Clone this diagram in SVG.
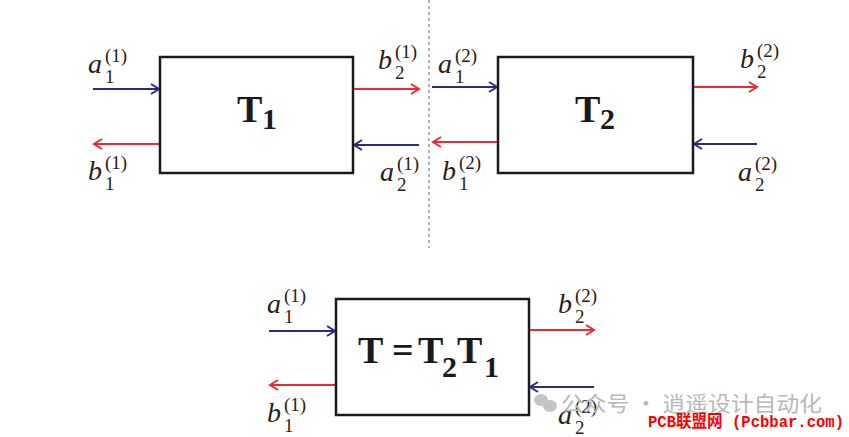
<svg xmlns="http://www.w3.org/2000/svg" width="849" height="437" viewBox="0 0 849 437">
<defs>
<style>
.box{fill:#fff;stroke:#1a1a1a;stroke-width:2.5}
.blue{stroke:#2b2b80;stroke-width:2;fill:none}
.red{stroke:#ee2a30;stroke-width:2;fill:none}
.v{font-family:"Liberation Serif",serif;font-style:italic;font-size:28px;fill:#2a2118}
.s{font-family:"Liberation Serif",serif;font-size:19px;fill:#2a2118}
.t{font-family:"Liberation Serif",serif;font-weight:bold;font-size:38px;fill:#1a1a1a}
.ts{font-family:"Liberation Serif",serif;font-weight:bold;font-size:30px;fill:#1a1a1a}
.wm{font-family:"Noto Sans CJK SC","Noto Sans",sans-serif;font-size:21px;fill:#b8b8b8}
.wr{font-family:"Liberation Mono","Noto Sans CJK SC",monospace;font-size:17px;fill:#f00;font-weight:bold}
</style>
<marker id="mb" markerWidth="12" markerHeight="12" refX="10" refY="6" orient="auto" markerUnits="userSpaceOnUse"><path d="M2,1 L10,6 L2,11" fill="none" stroke="#2b2b80" stroke-width="2"/></marker>
<marker id="mr" markerWidth="12" markerHeight="12" refX="10" refY="6" orient="auto" markerUnits="userSpaceOnUse"><path d="M2,1 L10,6 L2,11" fill="none" stroke="#ee2a30" stroke-width="2"/></marker>
</defs>
<line x1="429" y1="0" x2="429" y2="248" stroke="#999" stroke-width="1.5" stroke-dasharray="3,3"/>
<g id="connectors">
<line class="blue" x1="93" y1="89" x2="159" y2="89" marker-end="url(#mb)"/>
<line class="red" x1="160" y1="144" x2="94" y2="144" marker-end="url(#mr)"/>
<line class="red" x1="353" y1="89" x2="419" y2="89" marker-end="url(#mr)"/>
<line class="blue" x1="419" y1="145" x2="354" y2="145" marker-end="url(#mb)"/>
<line class="blue" x1="432" y1="87" x2="497" y2="87" marker-end="url(#mb)"/>
<line class="red" x1="498" y1="142" x2="433" y2="142" marker-end="url(#mr)"/>
<line class="red" x1="693" y1="87" x2="757" y2="87" marker-end="url(#mr)"/>
<line class="blue" x1="757" y1="144" x2="694" y2="144" marker-end="url(#mb)"/>
<line class="blue" x1="269" y1="331" x2="335" y2="331" marker-end="url(#mb)"/>
<line class="red" x1="336" y1="385" x2="270" y2="385" marker-end="url(#mr)"/>
<line class="red" x1="529" y1="330" x2="594" y2="330" marker-end="url(#mr)"/>
<line class="blue" x1="594" y1="387" x2="530" y2="387" marker-end="url(#mb)"/>
</g>
<g id="T1">
<rect class="box" x="160" y="57" width="193" height="116"/>
<text class="t" x="237" y="122">T</text><text class="ts" x="262" y="129">1</text>
</g>
<g id="T2">
<rect class="box" x="498" y="57" width="195" height="116"/>
<text class="t" x="575" y="122">T</text><text class="ts" x="600" y="129">2</text>
</g>
<g id="T">
<rect class="box" x="336" y="299" width="193" height="116"/>
<text class="t" x="358" y="363">T</text><text class="t" x="392" y="363">=</text><text class="t" x="418" y="363">T</text><text class="ts" x="442" y="377">2</text><text class="t" x="457" y="363">T</text><text class="ts" x="484" y="377">1</text>
</g>
<g id="labels">
<text class="v" x="88" y="73">a</text><text class="s" x="105" y="83">1</text><text class="s" x="105" y="62">(1)</text>
<text class="v" x="88" y="180">b</text><text class="s" x="105" y="190">1</text><text class="s" x="105" y="169">(1)</text>
<text class="v" x="378" y="69">b</text><text class="s" x="395" y="79">2</text><text class="s" x="395" y="58">(1)</text>
<text class="v" x="380" y="181">a</text><text class="s" x="397" y="191">2</text><text class="s" x="397" y="170">(1)</text>
<text class="v" x="438" y="73">a</text><text class="s" x="455" y="83">1</text><text class="s" x="455" y="62">(2)</text>
<text class="v" x="442" y="180">b</text><text class="s" x="459" y="190">1</text><text class="s" x="459" y="169">(2)</text>
<text class="v" x="740" y="68">b</text><text class="s" x="757" y="78">2</text><text class="s" x="757" y="57">(2)</text>
<text class="v" x="738" y="181">a</text><text class="s" x="755" y="191">2</text><text class="s" x="755" y="170">(2)</text>
<text class="v" x="267" y="313">a</text><text class="s" x="284" y="323">1</text><text class="s" x="284" y="302">(1)</text>
<text class="v" x="267" y="422">b</text><text class="s" x="284" y="432">1</text><text class="s" x="284" y="411">(1)</text>
<text class="v" x="558" y="313">b</text><text class="s" x="575" y="323">2</text><text class="s" x="575" y="302">(2)</text>
<text class="v" x="558" y="424">a</text><text class="s" x="575" y="434">2</text><text class="s" x="575" y="413">(2)</text>
</g>
<g id="watermark">
<ellipse cx="541" cy="400" rx="7" ry="6" fill="#c4c4c4"/>
<ellipse cx="550" cy="406" rx="7" ry="6" fill="#c4c4c4"/>
<text class="wm" x="561" y="411" textLength="261" lengthAdjust="spacingAndGlyphs">公众号 · 逍遥设计自动化</text>
<text class="wr" x="648" y="427" textLength="196" lengthAdjust="spacingAndGlyphs">PCB联盟网 (Pcbbar.com)</text>
</g>
</svg>
